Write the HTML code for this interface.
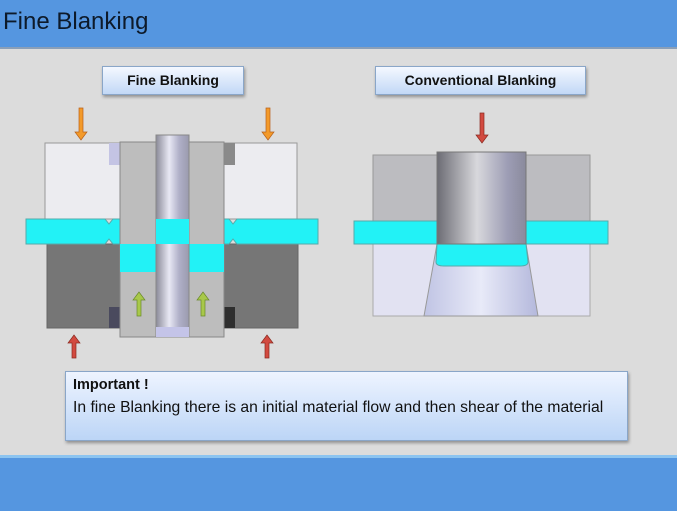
<!DOCTYPE html>
<html><head><style>
body{margin:0;width:677px;height:508px;overflow:hidden;background:#dcdcdc;font-family:"Liberation Sans",sans-serif;position:relative}
.bar{position:absolute;left:0;width:677px;background:#5596e0}
.lbl{position:absolute;height:27px;border:1px solid #8aa6c8;background:linear-gradient(#f4f8ff,#c2d8f6);box-shadow:1px 2px 3px rgba(0,0,0,.35);font-weight:bold;font-size:14px;text-align:center;line-height:27px;color:#111}
</style></head><body>
<div class="bar" style="top:0;height:47px;border-bottom:2px solid #8a9fb8"></div>
<div style="position:absolute;left:3px;top:8px;font-size:24px;color:#0d1a2a">Fine Blanking</div>
<div class="bar" style="top:455px;height:53px;border-top:3px solid #8cc4f0"></div>
<div class="lbl" style="left:102px;top:66px;width:140px">Fine Blanking</div>
<div class="lbl" style="left:375px;top:66px;width:209px">Conventional Blanking</div>
<div style="position:absolute;left:65px;top:371px;width:561px;height:68px;border:1px solid #8aa6c8;background:linear-gradient(#eef4ff,#bcd5f6);box-shadow:1px 2px 3px rgba(0,0,0,.35);color:#111">
<div style="position:absolute;left:7px;top:5px;font-weight:bold;font-size:14.5px">Important !</div>
<div style="position:absolute;left:7px;top:27px;font-size:15.7px;white-space:nowrap">In fine Blanking there is an initial material flow and then shear of the material</div>
</div>
<svg width="677" height="508" style="position:absolute;left:0;top:0">
<defs>
<linearGradient id="pin" x1="0" x2="1"><stop offset="0" stop-color="#8a8a98"/><stop offset=".4" stop-color="#e8e8f4"/><stop offset=".7" stop-color="#b0b0c8"/><stop offset="1" stop-color="#9a9aae"/></linearGradient>
<linearGradient id="punch" x1="0" x2="1"><stop offset="0" stop-color="#6c6c74"/><stop offset=".45" stop-color="#d8d8dc"/><stop offset=".8" stop-color="#9c9cb4"/><stop offset="1" stop-color="#8a8a9c"/></linearGradient>
<linearGradient id="cone" x1="0" x2="1"><stop offset="0" stop-color="#c0c4e4"/><stop offset=".5" stop-color="#e8eaf8"/><stop offset="1" stop-color="#b4b8dc"/></linearGradient>
</defs>
<rect x="45" y="143" width="252" height="76" fill="#ececf0" stroke="#999"/>
<rect x="47" y="244" width="251" height="84" fill="#767676" stroke="#666"/>
<path d="M26 219H105l4 5 4-5H229l4 5 4-5H318V244H237l-4-5-4 5H113l-4-5-4 5H26Z" fill="#22f2f6" stroke="#5aa"/>
<rect x="109" y="143" width="11" height="22" fill="#c4c4e4"/>
<rect x="224" y="143" width="11" height="22" fill="#8a8a8a"/>
<rect x="109" y="307" width="11" height="21" fill="#4a4a5e"/>
<rect x="224" y="307" width="11" height="21" fill="#2e2e2e"/>
<rect x="120" y="142" width="36" height="195" fill="#bdbdbd" stroke="#888"/>
<rect x="189" y="142" width="35" height="195" fill="#bdbdbd" stroke="#888"/>
<rect x="120" y="244" width="36" height="28" fill="#22f2f6"/>
<rect x="189" y="244" width="35" height="28" fill="#22f2f6"/>
<rect x="156" y="135" width="33" height="202" fill="url(#pin)" stroke="#888"/>
<rect x="156" y="219" width="33" height="25" fill="#22f2f6"/>
<rect x="156" y="327" width="33" height="10" fill="#c4c4e8"/>
<g fill="#f39a2a" stroke="#b8601a" stroke-width=".7"><path d="M79 108h4v24h4l-6 8-6-8h4z"/><path d="M266 108h4v24h4l-6 8-6-8h4z"/></g>
<g fill="#d24a40" stroke="#8a2a20" stroke-width=".7"><path d="M72 358h4v-15h4l-6-8-6 8h4z"/><path d="M265 358h4v-15h4l-6-8-6 8h4z"/><path d="M480 113h4v22h4l-6 8-6-8h4z"/></g>
<g fill="#a8c84a" stroke="#6a8a2a" stroke-width=".7"><path d="M137 316h4v-16h4l-6-8-6 8h4z"/><path d="M201 316h4v-16h4l-6-8-6 8h4z"/></g>
<rect x="373" y="155" width="217" height="66" fill="#bcbcc0" stroke="#999"/>
<rect x="373" y="244" width="217" height="72" fill="#e2e2f2" stroke="#aaa"/>
<rect x="354" y="221" width="254" height="23" fill="#22f2f6" stroke="#5aa"/>
<path d="M437 244H526L538 316H424Z" fill="url(#cone)" stroke="#999"/>
<path d="M437 244H526L528 262Q528 266 520 266H444Q436 266 436 262Z" fill="#22f2f6" stroke="#5aa"/>
<rect x="437" y="152" width="89" height="92" fill="url(#punch)" stroke="#777"/>
</svg>
</body></html>
